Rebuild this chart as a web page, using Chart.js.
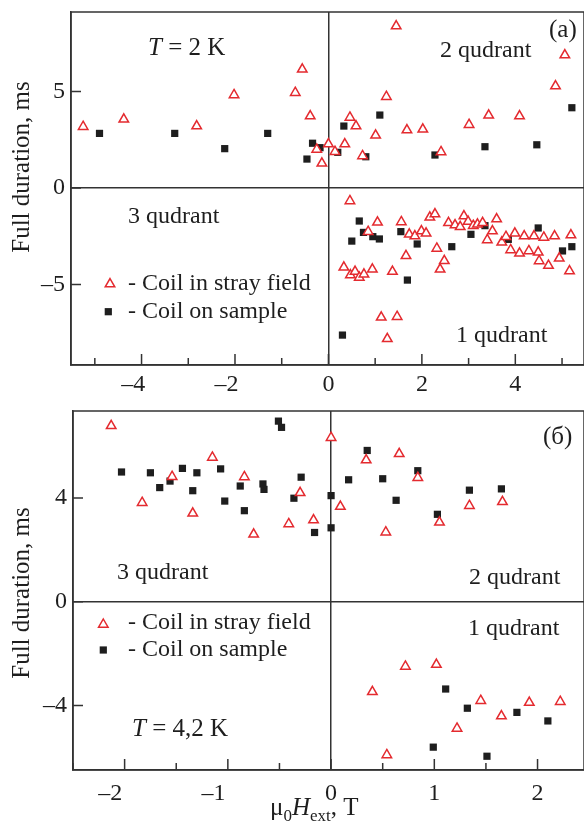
<!DOCTYPE html>
<html>
<head>
<meta charset="utf-8">
<script src="https://cdn.jsdelivr.net/npm/chart.js@4/dist/chart.umd.min.js"></script>
<style>
body { margin: 0; background: #fff; }
#wrap { position: relative; width: 584px; height: 837px; overflow: hidden; }
canvas { position: absolute; left: 0; }
#cA { top: 0; }
#cB { top: 400px; }
</style>
</head>
<body>
<div id="wrap">
  <canvas id="cA" width="584" height="400"></canvas>
  <canvas id="cB" width="584" height="437"></canvas>
</div>
<script>
// panel (a), T = 2 K
var strayA_x = [-5.25, -4.38, -2.82, -2.02, -0.71, -0.56, -0.39, -0.25, -0.14, 0.00,
  1.45, 5.06, 4.86, 1.24, 0.46, 0.59, 1.01, 1.68, 2.02, 3.01, 3.43, 4.09, 0.35, 0.14, 0.73, 2.41,
  0.46, 0.33, 0.47, 0.57, 0.66, 0.76, 0.94, 0.85, 1.05, 1.13, 1.26, 1.47, 1.37, 1.56, 1.66, 1.73,
  1.85, 1.99, 2.09, 2.17, 2.28, 2.32, 2.48, 2.39, 2.57, 2.71, 2.82, 2.90, 2.99, 3.10, 3.19, 3.30,
  3.40, 3.51, 3.60, 3.71, 3.80, 3.90, 3.99, 4.09, 4.19, 4.29, 4.40, 4.49, 4.51, 4.61, 4.71, 4.84,
  4.94, 5.19, 5.16];
var strayA_y = [3.18, 3.56, 3.21, 4.82, 4.94, 6.15, 3.73, 2.00, 1.28, 2.28,
  8.39, 6.89, 5.28, 4.73, 3.66, 3.21, 2.73, 3.00, 3.04, 3.28, 3.77, 3.73, 2.28, 1.88, 1.66, 1.87,
  -0.67, -4.11, -4.51, -4.33, -4.63, -4.47, -4.21, -2.26, -1.78, -6.70, -7.81, -6.67, -4.33, -1.76, -3.51, -2.40,
  -2.49, -2.23, -2.35, -1.52, -1.35, -3.13, -3.77, -4.21, -1.80, -1.92, -2.01, -1.45, -1.74, -1.95, -1.88, -1.80,
  -2.69, -2.23, -1.61, -2.81, -2.52, -3.21, -2.35, -3.38, -2.49, -3.26, -2.49, -3.33, -3.78, -2.56, -4.02, -2.49,
  -3.64, -2.44, -4.30];
var sampleA_x = [-4.90, -3.29, -2.22, -1.30, -0.34, -0.18, -0.46, 1.10, 0.33, 5.21, 4.46, 3.35, 2.28, 0.80, 0.20,
  0.30, 0.50, 0.66, 0.75, 0.95, 1.09, 1.55, 1.69, 1.90, 2.64, 3.05, 3.35, 3.85, 4.49, 5.01, 5.21];
var sampleA_y = [2.83, 2.83, 2.04, 2.83, 2.32, 2.09, 1.50, 3.78, 3.21, 4.16, 2.24, 2.14, 1.71, 1.62, 1.85,
  -7.62, -2.75, -1.71, -2.30, -2.52, -2.64, -2.26, -4.77, -2.90, -3.04, -2.40, -1.95, -2.66, -2.07, -3.26, -3.04];

// panel (б), T = 4,2 K
var strayB_x = [-2.13, -1.83, -1.54, -1.34, -1.15, -0.84, -0.75, -0.41, -0.30, -0.17, 0.00, 0.09, 0.34, 0.66,
  0.53, 0.84, 1.05, 1.34, 1.66, 0.40, 0.54, 0.72, 1.02, 1.22, 1.45, 1.65, 1.92, 2.22];
var strayB_y = [6.78, 3.82, 4.82, 3.41, 5.56, 4.81, 2.60, 3.00, 4.20, 3.15, 6.32, 3.67, 5.46, 5.70,
  2.68, 4.78, 3.06, 3.70, 3.85, -3.47, -5.90, -2.49, -2.42, -4.88, -3.81, -4.40, -3.88, -3.85];
var sampleB_x = [-2.03, -1.75, -1.66, -1.56, -1.44, -1.34, -1.30, -1.07, -1.03, -0.88, -0.84, -0.66, -0.65,
  -0.51, -0.48, -0.36, -0.29, -0.16, 0.00, 0.00, 0.17, 0.35, 0.50, 0.63, 0.84, 1.03, 1.34, 1.65,
  1.11, 1.32, 0.99, 1.51, 1.80, 2.10];
var sampleB_y = [5.00, 4.97, 4.40, 4.65, 5.14, 4.28, 4.97, 5.12, 3.88, 4.46, 3.51, 4.54, 4.33,
  6.96, 6.72, 3.99, 4.80, 2.67, 4.09, 2.85, 4.70, 5.83, 4.74, 3.91, 5.05, 3.37, 4.30, 4.35,
  -3.36, -4.10, -5.60, -5.95, -4.26, -4.59];

var rangeA_x = [-5.51, 5.47], rangeA_y = [-9.17, 9.12];
var rangeB_x = [-2.5, 2.45], rangeB_y = [-6.48, 7.35];

var FONT = '"Liberation Serif", "Times New Roman", serif';
var RED = '#e42a2f', INK = '#1e1e1e', AXIS = '#333';

let pts = (xs, ys) => xs.map((x, i) => ({ x: x, y: ys[i] }));

function dash(v) {
  return v < 0 ? '\u2013' + Math.abs(v) : String(v);
}

function drawRich(ctx, parts, x, y, size) {
  parts.forEach(p => {
    var s = p.sub ? size * 0.68 : size;
    ctx.font = (p.i ? 'italic ' : '') + s + 'px ' + FONT;
    ctx.fillText(p.t, x, y + (p.sub ? size * 0.22 : 0));
    x += ctx.measureText(p.t).width;
  });
}

function triangle(ctx, x, y, r) {
  ctx.beginPath();
  ctx.moveTo(x, y - r);
  ctx.lineTo(x + r * 0.866, y + r / 2);
  ctx.lineTo(x - r * 0.866, y + r / 2);
  ctx.closePath();
  ctx.fillStyle = '#fff';
  ctx.fill();
  ctx.lineWidth = 1.5;
  ctx.strokeStyle = RED;
  ctx.stroke();
}

// frame, inward ticks and all the lettering
var decor = {
  id: 'decor',
  afterDraw(chart) {
    var ctx = chart.ctx, a = chart.chartArea, o = chart.options.plugins.decor;
    var xs = chart.scales.x, ys = chart.scales.y;
    ctx.save();
    ctx.strokeStyle = AXIS;
    ctx.lineWidth = 1.5;
    ctx.strokeRect(a.left, a.top, a.right - a.left, a.bottom - a.top);
    ctx.beginPath();
    xs.ticks.forEach(t => {
      var px = xs.getPixelForValue(t.value);
      var major = Math.abs(t.value / o.labelStep - Math.round(t.value / o.labelStep)) < 1e-6;
      ctx.moveTo(px, a.bottom);
      ctx.lineTo(px, a.bottom - (major ? 11 : 7));
    });
    ys.ticks.forEach(t => {
      var py = ys.getPixelForValue(t.value);
      ctx.moveTo(a.left, py);
      ctx.lineTo(a.left + 10, py);
    });
    ctx.stroke();

    ctx.fillStyle = INK;
    ctx.textBaseline = 'alphabetic';
    ctx.textAlign = 'left';
    o.texts.forEach(tx => drawRich(ctx, tx.parts, tx.x, tx.y, tx.size || 24));

    triangle(ctx, o.legend[0], o.legend[1], 5.5);
    ctx.fillStyle = INK;
    ctx.fillRect(o.legend[2] - 3.6, o.legend[3] - 3.6, 7.2, 7.2);

    ctx.save();
    ctx.translate(o.yTitle[0], o.yTitle[1]);
    ctx.rotate(-Math.PI / 2);
    ctx.textAlign = 'center';
    ctx.font = '25px ' + FONT;
    ctx.fillText('Full duration, ms', 0, 0);
    ctx.restore();
    ctx.restore();
  }
};

function makeChart(id, d) {
  var gridColor = c => (c.tick && Math.abs(c.tick.value) < 1e-9) ? AXIS : 'rgba(0,0,0,0)';
  return new Chart(document.getElementById(id), {
    type: 'scatter',
    data: {
      datasets: [{
        data: d.stray,
        pointStyle: 'triangle',
        pointRadius: 5.5,
        pointBorderWidth: 1.5,
        borderColor: RED,
        backgroundColor: '#fff'
      }, {
        data: d.sample,
        pointStyle: 'rect',
        pointRadius: 5.1,
        pointBorderWidth: 0,
        borderColor: INK,
        backgroundColor: INK
      }]
    },
    options: {
      responsive: false,
      animation: false,
      events: [],
      layout: { autoPadding: false, padding: { top: d.top, right: 0, left: 0, bottom: 0 } },
      plugins: { legend: { display: false }, tooltip: { enabled: false }, decor: d.decor },
      scales: {
        x: {
          type: 'linear',
          min: d.rx[0], max: d.rx[1],
          afterFit: s => { s.height = d.xh; s.paddingLeft = 0; s.paddingRight = 0; },
          border: { color: AXIS, width: 1.5 },
          grid: { drawTicks: false, color: gridColor, lineWidth: 1.5 },
          ticks: {
            stepSize: d.xstep, includeBounds: false, autoSkip: false, maxRotation: 0,
            padding: d.xpad, color: INK, font: { family: FONT, size: 24 },
            callback: v => {
              var k = v / d.decor.labelStep;
              if (Math.abs(k - Math.round(k)) > 1e-6) return '';
              v = Math.round(v);
              return v < 0 ? dash(v) + d.negPad : dash(v);
            }
          }
        },
        y: {
          type: 'linear',
          min: d.ry[0], max: d.ry[1],
          afterFit: s => { s.width = d.yw; s.paddingTop = 0; s.paddingBottom = 0; },
          border: { color: AXIS, width: 1.5 },
          grid: { drawTicks: false, color: gridColor, lineWidth: 1.5 },
          ticks: {
            stepSize: d.ystep, includeBounds: false, padding: 6, color: INK,
            font: { family: FONT, size: 24 },
            callback: v => dash(Math.round(v))
          }
        }
      }
    },
    plugins: [decor]
  });
}

makeChart('cA', {
  stray: pts(strayA_x, strayA_y), sample: pts(sampleA_x, sampleA_y),
  rx: rangeA_x, ry: rangeA_y, xstep: 1, ystep: 5,
  top: 12, xh: 35, yw: 71, xpad: 5, negPad: '\u2002\u2009',
  decor: {
    labelStep: 2,
    yTitle: [28.5, 167],
    legend: [110, 284, 108.3, 311.7],
    texts: [
      { parts: [{ t: 'T', i: 1 }, { t: ' = 2 K' }], x: 148, y: 55, size: 25 },
      { parts: [{ t: '(a)' }], x: 549, y: 37, size: 25 },
      { parts: [{ t: '2 qudrant' }], x: 440, y: 57 },
      { parts: [{ t: '3 qudrant' }], x: 128, y: 223 },
      { parts: [{ t: '- Coil in stray field' }], x: 128, y: 290 },
      { parts: [{ t: '- Coil on sample' }], x: 128, y: 318 },
      { parts: [{ t: '1 qudrant' }], x: 456, y: 342 }
    ]
  }
});

makeChart('cB', {
  stray: pts(strayB_x, strayB_y), sample: pts(sampleB_x, sampleB_y),
  rx: rangeB_x, ry: rangeB_y, xstep: 0.5, ystep: 4,
  top: 11, xh: 67, yw: 73, xpad: 9, negPad: '\u2003\u2009',
  decor: {
    labelStep: 1,
    yTitle: [28.5, 193],
    legend: [103.3, 224.5, 103.3, 250],
    texts: [
      { parts: [{ t: '(\u0431)' }], x: 543, y: 44, size: 25 },
      { parts: [{ t: '3 qudrant' }], x: 117, y: 179 },
      { parts: [{ t: '2 qudrant' }], x: 469, y: 184 },
      { parts: [{ t: '- Coil in stray field' }], x: 128, y: 229 },
      { parts: [{ t: '- Coil on sample' }], x: 128, y: 256 },
      { parts: [{ t: '1 qudrant' }], x: 468, y: 235 },
      { parts: [{ t: 'T', i: 1 }, { t: ' = 4,2 K' }], x: 132, y: 336, size: 25 },
      { parts: [{ t: '\u03bc' }, { t: '0', sub: 1 }, { t: 'H', i: 1 }, { t: 'ext', sub: 1 }, { t: ', T' }], x: 270, y: 415, size: 25 }
    ]
  }
});
</script>
</body>
</html>
